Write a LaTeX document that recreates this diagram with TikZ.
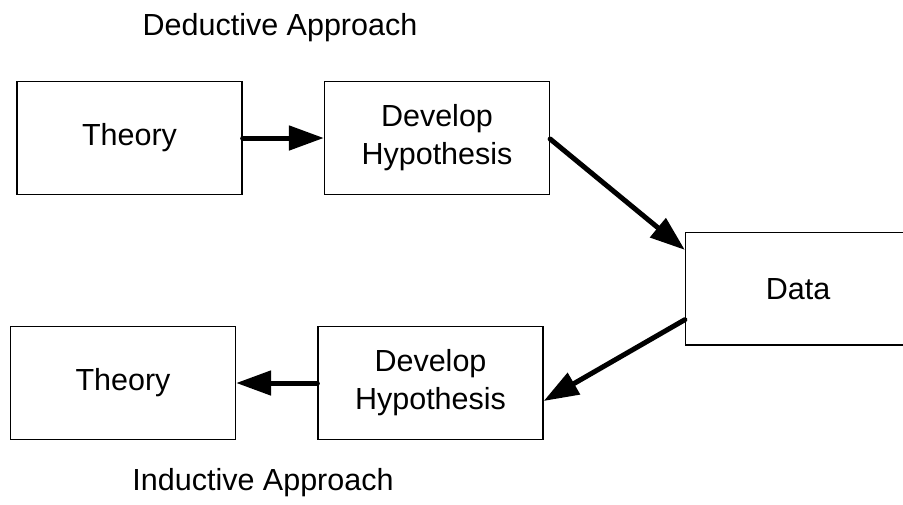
\documentclass[tikz,border=0pt]{standalone}
\usepackage{fontspec}
\setmainfont{Liberation Sans}
\usetikzlibrary{arrows.meta,calc}
\begin{document}
\begin{tikzpicture}[x=1pt,y=-1pt,
  box/.style={draw, line width=1.3pt, minimum width=225pt, minimum height=112.5pt, inner sep=0pt, align=center,
    font=\fontsize{30.5}{38}\selectfont},
  flow/.style={line width=5pt, line cap=round, -{Triangle[length=35pt,width=24pt]}},
  lbl/.style={font=\fontsize{30.5}{38}\selectfont, anchor=base, inner sep=0pt}]
\useasboundingbox (0,0) rectangle (903,504);
\clip (0,0) rectangle (903,504);
\node[box] (th1) at (129.5,138) {Theory};
\node[box] (dh1) at (437,138) {Develop\\Hypothesis};
\node[box] (data) at (798,288.8) {Data};
\node[box] (th2) at (123,383) {Theory};
\node[box] (dh2) at (430.5,383) {Develop\\Hypothesis};
\node[lbl] (ded) at (280,35) {Deductive Approach};
\node[lbl] (ind) at (263,490) {Inductive Approach};
\draw[flow] (th1.east) -- (dh1.west);
\draw[flow] ([yshift=-1pt]dh1.east) -- ([yshift=-18pt]data.north west);
\draw[flow] ([yshift=26pt]data.south west) -- ([yshift=-18pt]dh2.east);
\draw[flow] (dh2.west) -- (th2.east);
\end{tikzpicture}
\end{document}
